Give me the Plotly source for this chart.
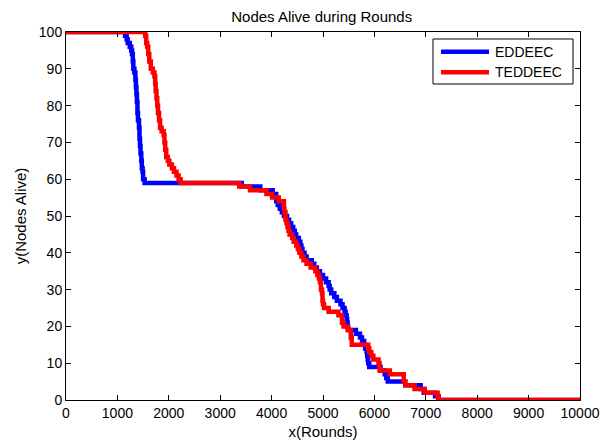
import plotly.graph_objects as go

# Alive-node counts per protocol, given at the rounds where the count changes
eddeec_rounds = [0, 1150, 1180, 1200, 1240, 1270, 1285, 1300, 1310, 1330, 1350, 1360, 1370,
                 1380, 1390, 1400, 1420, 1430, 1440, 1450, 1465, 1475, 1490, 1500, 1530,
                 3420, 3780, 4020, 4090, 4120, 4160, 4200, 4240, 4300, 4340, 4380, 4420,
                 4450, 4480, 4530, 4560, 4580, 4600, 4640, 4680, 4780, 4830, 4880, 4940,
                 5000, 5060, 5110, 5130, 5160, 5220, 5270, 5340, 5380, 5420, 5440, 5460,
                 5470, 5480, 5490, 5640, 5720, 5760, 5800, 5820, 5850, 5860, 5870, 5880,
                 5900, 6120, 6200, 6230, 6260, 6600, 6900, 6960, 7180, 7250, 10000]
eddeec_alive = [100, 99, 98, 97, 96, 95, 94, 92, 90, 89, 87, 85, 83,
                81, 78, 76, 74, 71, 69, 67, 65, 63, 62, 60, 59,
                58, 57, 56, 54, 53, 52, 51, 50, 49, 48, 47, 46,
                45, 44, 43, 42, 41, 40, 39, 38, 37, 36, 35, 34,
                33, 32, 31, 30, 29, 28, 27, 26, 25, 24, 23, 22,
                21, 20, 19, 18, 17, 16, 15, 14, 13, 12, 11, 10,
                9, 8, 7, 6, 5, 4, 3, 2, 1, 0, 0]

teddeec_rounds = [0, 1540, 1560, 1580, 1600, 1620, 1650, 1690, 1720, 1735, 1745, 1760, 1775,
                  1790, 1810, 1830, 1860, 1900, 1915, 1930, 1950, 1980, 2010, 2060, 2100,
                  2150, 2190, 2230, 3370, 3580, 3900, 4010, 4140, 4240, 4250, 4270, 4290,
                  4310, 4330, 4350, 4400, 4430, 4480, 4510, 4540, 4580, 4620, 4680, 4760,
                  4850, 4890, 4920, 4940, 4960, 4980, 4990, 5000, 5020, 5110, 5300, 5370,
                  5400, 5480, 5540, 5560, 5880, 5900, 5940, 5980, 6080, 6100, 6300, 6570,
                  6600, 6780, 6980, 7230, 7240, 10000]
teddeec_alive = [100, 99, 97, 96, 94, 92, 90, 89, 88, 86, 84, 82, 80,
                 78, 76, 74, 73, 72, 70, 68, 66, 65, 64, 63, 62,
                 61, 60, 59, 58, 57, 56, 55, 54, 52, 51, 49, 48,
                 47, 46, 45, 44, 43, 42, 41, 40, 39, 38, 37, 36,
                 35, 34, 33, 32, 30, 29, 27, 26, 25, 24, 23, 21,
                 20, 19, 17, 15, 14, 13, 12, 11, 10, 8, 7, 5,
                 4, 3, 2, 1, 0, 0]

series_names = ["EDDEEC", "TEDDEEC"]
series_colors = ["#0000FF", "#FF0000"]

x_ticks = list(range(0, 10001, 1000))
y_ticks = list(range(0, 101, 10))

FONT = "Liberation Sans, Arial, Helvetica, sans-serif"
LINE_W = 4.5

fig = go.Figure()
for name, color, xs, ys in zip(series_names, series_colors,
                               [eddeec_rounds, teddeec_rounds],
                               [eddeec_alive, teddeec_alive]):
    fig.add_trace(go.Scatter(
        x=xs, y=ys, mode="lines", name=name, showlegend=False,
        line=dict(color=color, width=LINE_W, shape="hv"),
    ))

axis_style = dict(
    showgrid=False, zeroline=False, automargin=False,
    showline=True, linecolor="black", linewidth=1, mirror="ticks",
    ticks="inside", ticklen=5, tickwidth=1, tickcolor="black",
    tickfont=dict(family=FONT, size=14, color="black"),
)

# Boxed legend in the upper-right corner of the axes (paper coordinates)
leg_box = dict(x0=0.714, x1=0.9864, y0=0.8587, y1=0.981)
leg_rows = [0.9465, 0.8905]
leg_line_x = (0.7296, 0.8230)
leg_text_x = 0.8310

shapes = [dict(type="rect", xref="paper", yref="paper", **leg_box,
               line=dict(color="black", width=1), fillcolor="white", layer="above")]
annotations = []
for name, color, yr in zip(series_names, series_colors, leg_rows):
    shapes.append(dict(type="line", xref="paper", yref="paper",
                       x0=leg_line_x[0], x1=leg_line_x[1], y0=yr, y1=yr,
                       line=dict(color=color, width=LINE_W), layer="above"))
    annotations.append(dict(text=name, xref="paper", yref="paper", x=leg_text_x, y=yr,
                            xanchor="left", yanchor="middle", showarrow=False,
                            font=dict(family=FONT, size=14, color="black")))

fig.update_layout(
    width=614, height=440,
    margin=dict(l=66, r=34, t=32, b=40),
    paper_bgcolor="white", plot_bgcolor="white",
    font=dict(family=FONT, size=14, color="black"),
    title=dict(text="Nodes Alive during Rounds", x=0.524, xanchor="center",
               y=0.962, yanchor="middle", font=dict(family=FONT, size=15, color="black")),
    xaxis=dict(range=[0, 10000], tickvals=x_ticks, ticktext=[str(v) for v in x_ticks],
               title=dict(text="x(Rounds)", standoff=6, font=dict(family=FONT, size=15)),
               **axis_style),
    yaxis=dict(range=[0, 100], tickvals=y_ticks, ticktext=[str(v) for v in y_ticks],
               title=dict(text="y(Nodes Alive)", standoff=8, font=dict(family=FONT, size=15)),
               **axis_style),
    shapes=shapes,
    annotations=annotations,
    showlegend=False,
)

fig.write_html("out.html")
